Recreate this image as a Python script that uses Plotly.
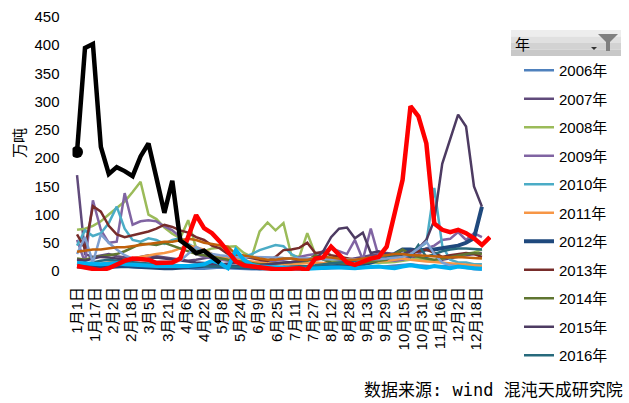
import pandas as pd
import plotly.graph_objects as go

W, H = 629, 403

# axis labels (weekly data plotted on a 2020 date axis, label every 16 days)
tick_dates = ['2020-01-01', '2020-01-17', '2020-02-02', '2020-02-18', '2020-03-05',
              '2020-03-21', '2020-04-06', '2020-04-22', '2020-05-08', '2020-05-24',
              '2020-06-09', '2020-06-25', '2020-07-11', '2020-07-27', '2020-08-12',
              '2020-08-28', '2020-09-13', '2020-09-29', '2020-10-15', '2020-10-31',
              '2020-11-16', '2020-12-02', '2020-12-18']
tick_labels = ['1月1日', '1月17日', '2月2日', '2月18日', '3月5日', '3月21日', '4月6日',
               '4月22日', '5月8日', '5月24日', '6月9日', '6月25日', '7月11日', '7月27日',
               '8月12日', '8月28日', '9月13日', '9月29日', '10月15日', '10月31日',
               '11月16日', '12月2日', '12月18日']

# weekly values, 万吨
y2006 = [8, 6, 5, 7, 9, 10, 8, 7, 6, 8, 9, 7, 6, 5, 5, 4, 4, 5, 6, 5, 4, 4, 3, 3, 4, 5,
         5, 4, 4, 3, 3, 4, 5, 6, 6, 5, 5, 6, 7, 8, 9, 10, 12, 10, 9, 8, 9, 10, 11, 9, 8, 7]
y2007 = [170, 30, 25, 28, 30, 26, 24, 22, 25, 28, 26, 24, 22, 20, 18, 20, 22, 25, 24, 20,
         18, 16, 15, 14, 12, 12, 14, 15, 16, 18, 20, 22, 20, 18, 20, 22, 25, 28, 30, 32,
         30, 28, 25, 22, 20, 18, 20, 22, 25, 28, 30, 32]
y2008 = [73, 75, 80, 88, 100, 112, 123, 140, 158, 100, 92, 77, 66, 58, 90, 40, 35, 40, 42,
         43, 44, 32, 25, 70, 86, 72, 85, 28, 25, 67, 30, 22, 18, 15, 13, 12, 12, 14, 14,
         15, 16, 18, 20, 22, 20, 18, 22, 25, 28, 30, 33, 38]
y2009 = [55, 15, 125, 73, 50, 52, 138, 82, 88, 90, 88, 79, 72, 60, 45, 30, 25, 22, 20, 18,
         16, 15, 14, 15, 16, 18, 20, 22, 25, 28, 30, 35, 40, 35, 30, 55, 20, 75, 25, 20,
         18, 20, 25, 30, 40, 45, 55, 57, 69, 55, 67, 60]
y2010 = [45, 72, 62, 67, 85, 114, 75, 55, 52, 58, 55, 48, 55, 58, 48, 40, 35, 30, 25, 25,
         22, 25, 30, 37, 42, 46, 44, 30, 22, 15, 15, 12, 10, 10, 10, 12, 15, 18, 20, 22,
         25, 30, 35, 40, 50, 147, 45, 20, 15, 15, 12, 12]
y2011 = [15, 14, 12, 13, 15, 18, 20, 22, 25, 28, 30, 32, 35, 40, 45, 42, 38, 30, 25, 22,
         20, 18, 16, 15, 14, 13, 12, 12, 13, 14, 15, 14, 13, 12, 12, 13, 14, 15, 16, 18,
         20, 22, 20, 18, 17, 16, 15, 14, 13, 12, 10, 9]
y2012 = [8, 7, 6, 6, 7, 8, 9, 8, 7, 6, 6, 5, 5, 6, 7, 8, 9, 10, 9, 8, 7, 6, 5, 5, 5, 6,
         6, 5, 5, 5, 6, 7, 8, 8, 9, 10, 12, 15, 20, 25, 30, 38, 38, 36, 38, 38, 40, 42,
         45, 50, 58, 114]
y2013 = [65, 40, 115, 105, 80, 65, 60, 63, 66, 70, 75, 82, 78, 72, 68, 60, 55, 45, 40, 30,
         28, 25, 22, 20, 18, 25, 37, 38, 41, 50, 32, 33, 28, 25, 22, 20, 18, 20, 20, 22,
         25, 28, 30, 35, 38, 32, 25, 28, 30, 32, 30, 25]
y2014 = [22, 20, 24, 26, 28, 30, 35, 42, 48, 48, 46, 50, 45, 40, 35, 30, 28, 25, 22, 20,
         18, 16, 14, 12, 12, 13, 14, 15, 16, 18, 28, 20, 15, 14, 12, 12, 14, 16, 18, 20,
         30, 38, 30, 25, 22, 20, 22, 25, 28, 30, 32, 30]
y2015 = [20, 18, 22, 25, 24, 22, 20, 18, 20, 22, 24, 22, 20, 18, 16, 15, 14, 12, 12, 13,
         14, 12, 10, 10, 12, 14, 15, 16, 18, 20, 20, 35, 60, 75, 77, 58, 68, 32, 35, 30,
         28, 30, 35, 40, 55, 90, 190, 235, 277, 256, 150, 114]
y2016 = [10, 12, 15, 18, 20, 18, 16, 15, 14, 13, 12, 12, 11, 10, 10, 9, 9, 8, 8, 8, 7, 7,
         6, 6, 6, 7, 7, 8, 8, 9, 10, 12, 14, 15, 16, 18, 20, 22, 24, 25, 28, 30, 25, 46,
         25, 30, 35, 38, 40, 40, 39, 38]
y2017 = [30, 60, 15, 65, 50, 38, 28, 22, 20, 18, 17, 16, 16, 18, 30, 43, 35, 30, 28, 26,
         25, 25, 25, 25, 24, 24, 23, 23, 22, 22, 22, 21, 21, 21, 20, 20, 20, 20, 21, 22,
         23, 25, 30, 40, 52, 30, 15, 10, 8, 5, 3, 2]
y2018 = [34, 36, 38, 38, 40, 42, 42, 44, 46, 48, 50, 52, 52, 55, 57, 55, 50, 48, 45, 43,
         30, 28, 25, 22, 20, 20, 22, 22, 20, 20, 22, 25, 24, 22, 20, 20, 22, 25, 27, 28,
         30, 30, 28, 28, 27, 26, 25, 24, 25, 24, 23, 22]
y2019 = [14, 13, 12, 12, 13, 14, 12, 11, 10, 10, 9, 9, 9, 8, 9, 10, 12, 18, 14, 5, 37, 20,
         11, 8, 7, 6, 5, 5, 4, 4, 5, 5, 6, 6, 5, 5, 6, 7, 8, 6, 5, 8, 10, 8, 6, 9, 7, 5,
         8, 6, 5, 4]
y2020 = [9, 6, 2, 1, 5, 12, 18, 22, 20, 20, 14, 14, 15, 22, 60, 99, 76, 67, 52, 33, 17, 10,
         8, 5, 4, 3, 3, 5, 5, 2, 22, 24, 43, 29, 15, 11, 17, 22, 25, 43, 102, 161, 292,
         274, 226, 84, 73, 69, 73, 67, 58, 46, 60]
y2021 = [211, 395, 402, 220, 172, 184, 177, 168, 203, 226, 165, 103, 160, 54, 44, 32, 36,
         25, 14]

series = [
    ('2006年', y2006, '#4F81BD', 2.5, True),
    ('2007年', y2007, '#604A7B', 2.5, True),
    ('2008年', y2008, '#9BBB59', 2.5, True),
    ('2009年', y2009, '#8064A2', 2.5, True),
    ('2010年', y2010, '#4BACC6', 2.5, True),
    ('2011年', y2011, '#F79646', 2.5, True),
    ('2012年', y2012, '#1F497D', 4, True),
    ('2013年', y2013, '#772C2A', 2.5, True),
    ('2014年', y2014, '#5F7530', 2.5, True),
    ('2015年', y2015, '#4D3B62', 2.5, True),
    ('2016年', y2016, '#276A7C', 2.5, True),
    ('2017年', y2017, '#7F9FD0', 2.5, False),
    ('2018年', y2018, '#C0600A', 2.5, False),
    ('2019年', y2019, '#00B0F0', 4, False),
    ('2020年', y2020, '#FF0000', 4.5, False),
]


def px(x):
    return x / W


def py(y):
    return 1 - y / H


fig = go.Figure()
for name, vals, color, width, inlegend in series:
    dates = pd.date_range('2020-01-01', periods=len(vals), freq='7D')
    fig.add_trace(go.Scatter(x=dates, y=vals, name=name, mode='lines',
                             line=dict(color=color, width=width),
                             legendgroup=name, showlegend=inlegend))

# latest year, marker on first point
d21 = pd.date_range('2020-01-01', periods=len(y2021), freq='7D')
fig.add_trace(go.Scatter(x=d21, y=y2021, name='2021年', mode='lines',
                         line=dict(color='#000000', width=4.5), showlegend=False))
fig.add_trace(go.Scatter(x=d21[:1], y=y2021[:1], mode='markers',
                         marker=dict(size=12, color='#000000', line=dict(width=0)),
                         showlegend=False))

fig.update_layout(
    width=W, height=H,
    margin=dict(l=0, r=0, t=0, b=0, autoexpand=False),
    plot_bgcolor='white', paper_bgcolor='white',
    font=dict(family='Liberation Sans, Arial, Noto Sans CJK SC', size=15, color='#000000'),
    xaxis=dict(type='date', range=['2019-12-28', '2020-12-31'],
               domain=[px(72.5), px(491)], automargin=False,
               tickvals=tick_dates, ticktext=tick_labels, tickangle=-90,
               showgrid=False, zeroline=False, showline=False, ticks='',
               ticklabelstandoff=12, tickfont=dict(size=15)),
    yaxis=dict(range=[0, 450], dtick=50, domain=[py(271), py(17)], automargin=False,
               showgrid=False, zeroline=False, showline=False, ticks='',
               ticklabelstandoff=12, tickfont=dict(size=15)),
    legend=dict(x=px(519), y=py(54), xanchor='left', yanchor='top',
                bgcolor='rgba(0,0,0,0)', tracegroupgap=6,
                font=dict(size=15, family='Liberation Sans, Noto Sans CJK SC')),
)

# legend header (pivot-chart field button)
shades = ['#EDEDED', '#E0E0E0', '#D2D2D2', '#C8C8C8']
for i, c in enumerate(shades):
    fig.add_shape(type='rect', xref='paper', yref='paper',
                  x0=px(511), x1=px(621), y0=py(30 + 6.5 * (i + 1)), y1=py(30 + 6.5 * i),
                  fillcolor=c, line=dict(width=0), layer='below')
fig.add_annotation(text='年', xref='paper', yref='paper', x=px(513), y=py(43),
                   xanchor='left', yanchor='middle', showarrow=False,
                   font=dict(size=15, family='Noto Sans CJK SC', color='#000000'))
funnel = 'M {} {} L {} {} L {} {} L {} {} L {} {} L {} {} Z'.format(
    px(598), py(34), px(618), py(34), px(610), py(42), px(610), py(51),
    px(606), py(51), px(606), py(42))
fig.add_shape(type='path', xref='paper', yref='paper', path=funnel,
              fillcolor='#808080', line=dict(width=0))
arrow = 'M {} {} L {} {} L {} {} Z'.format(px(591), py(47), px(597), py(47), px(594), py(50))
fig.add_shape(type='path', xref='paper', yref='paper', path=arrow,
              fillcolor='#333333', line=dict(width=0))

fig.add_annotation(text='万吨', xref='paper', yref='paper', x=px(18), y=py(143),
                   xanchor='center', yanchor='middle', textangle=-90, showarrow=False,
                   font=dict(size=15, family='Noto Sans CJK SC', color='#000000'))
fig.add_annotation(text='数据来源: wind 混沌天成研究院', xref='paper', yref='paper',
                   x=px(625), y=py(390), xanchor='right', yanchor='middle', showarrow=False,
                   font=dict(size=17, family='DejaVu Sans Mono, Noto Sans CJK SC',
                             color='#000000'))

# page body has a default 8px margin; drop it so the figure fills the window
fig.write_html('out.html', config={'displayModeBar': False},
               post_script="document.body.style.margin='0';")
